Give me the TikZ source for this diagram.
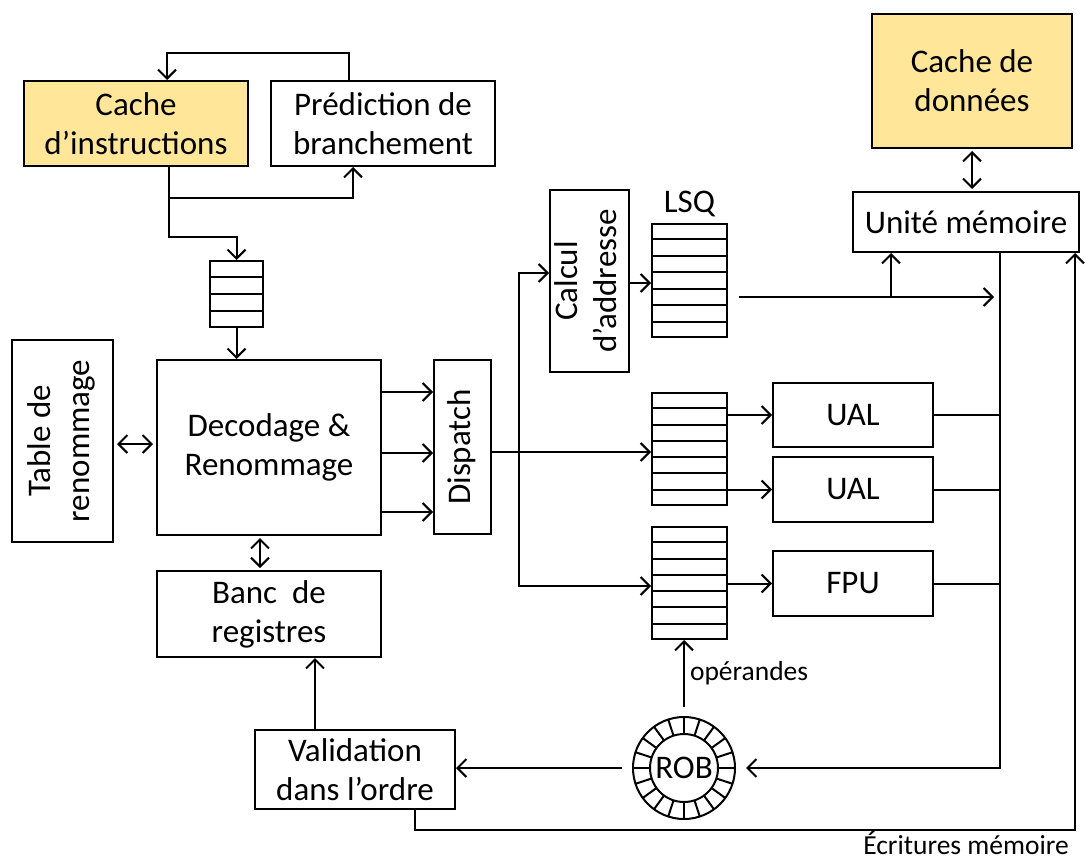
\documentclass[tikz,border=0pt]{standalone}
\usepackage{fontspec}
\usepackage{graphicx}
\setmainfont{Carlito}
\usetikzlibrary{arrows.meta,calc}

\definecolor{cacheyellow}{HTML}{FFE699}
\newcommand{\mainfnt}{\fontsize{33}{39}\selectfont}
\newcommand{\smallfnt}{\fontsize{27.5}{33}\selectfont}
\newcommand{\vtext}[1]{\rotatebox{90}{\begin{tabular}{@{}c@{}}#1\end{tabular}}}

\begin{document}
\begin{tikzpicture}[x=1pt,y=1pt]
    \tikzstyle{block} = [rectangle, draw, line width=2pt, align=center, inner sep=0pt, font=\mainfnt]
    \tikzstyle{cache} = [block, fill=cacheyellow]
    \tikzstyle{queue} = [rectangle, draw, line width=2pt, inner sep=0pt]
    \tikzstyle{title} = [font=\mainfnt, inner sep=0pt]
    \tikzstyle{small} = [font=\smallfnt, inner sep=1pt]
    \tikzstyle{wire} = [line width=2pt]
    \tikzstyle{arrow} = [wire, -{Straight Barb[length=9pt,width=18pt]}]
    \tikzstyle{dblarrow} = [wire, {Straight Barb[length=9pt,width=18pt]}-{Straight Barb[length=9pt,width=18pt]}]

    \useasboundingbox (0,0) rectangle (1086,-861);

    % Fetch
    \node [cache, minimum width=224pt, minimum height=85pt] (icache) at (136,-123.5) {Cache\\d’instructions};
    \node [block, minimum width=224pt, minimum height=85pt] (bpred) at (383,-123.5) {Prédiction de\\branchement};
    \node [queue, minimum width=53pt, minimum height=66pt] (fetchq) at (236.5,-294) {};

    % Decode / rename
    \node [block, minimum width=224pt, minimum height=175pt] (decode) at (269,-447.5) {Decodage \&\\Renommage};
    \node [block, minimum width=101pt, minimum height=202pt] (rentab) at (62.5,-441) {\vtext{Table de\\renommage}};
    \node [block, minimum width=224pt, minimum height=86pt] (regs) at (269,-614) {Banc\ \ de\\registres};
    \node [block, minimum width=200pt, minimum height=79pt] (commit) at (355,-769.5) {Validation\\dans l’ordre};

    % Dispatch and queues
    \node [block, minimum width=57pt, minimum height=174pt] (dispatch) at (462.5,-447) {\vtext{Dispatch}};
    \node [block, minimum width=79pt, minimum height=182pt] (agu) at (589.5,-281) {\vtext{Calcul\\d’addresse}};
    \node [queue, minimum width=75pt, minimum height=113pt] (lsq) at (689.5,-280.5) {};
    \node [title, anchor=base] (lsqname) at ([yshift=11pt]lsq.north) {LSQ};
    \node [queue, minimum width=75pt, minimum height=112pt] (iq1) at (689.5,-449) {};
    \node [queue, minimum width=75pt, minimum height=112pt] (iq2) at (689.5,-583) {};

    % Execution units
    \node [block, minimum width=160pt, minimum height=64pt] (alu1) at (853,-415) {UAL};
    \node [block, minimum width=160pt, minimum height=65pt] (alu2) at (853,-489.5) {UAL};
    \node [block, minimum width=160pt, minimum height=65pt] (fpu) at (853,-583.5) {FPU};

    % Memory
    \node [block, minimum width=226pt, minimum height=60pt] (memu) at (966,-222) {Unité mémoire};
    \node [cache, minimum width=200pt, minimum height=134pt] (dcache) at (972,-81) {Cache de\\données};

    % ROB
    \node [circle, draw, line width=2pt, minimum size=102pt, inner sep=0pt, font=\mainfnt] (rob) at (684,-768) {ROB};
    \draw [wire] (rob.center) circle [radius=34pt];
    \foreach \a in {0,18,...,342}
        \draw [wire] ($(rob.center)+(\a:34pt)$) -- ($(rob.center)+(\a:51pt)$);

    % queue rows
    \foreach \q/\n in {fetchq/4,lsq/7,iq1/7,iq2/7} {
        \pgfmathtruncatemacro{\m}{\n-1}
        \foreach \k in {1,...,\m}
            \draw [wire] ($(\q.north west)!\k/\n!(\q.south west)$) -- ($(\q.north east)!\k/\n!(\q.south east)$);
    }

    % Connections
    \coordinate (split) at ([xshift=27pt,yshift=-5pt]dispatch.east);
    \coordinate (rbus) at ([xshift=34pt]memu.south);
    \coordinate (lsqout) at ([xshift=11pt,yshift=-16.5pt]lsq.east);

    \draw [arrow] ([xshift=-34pt]bpred.north) -- ++(0,27pt) -| ([xshift=31pt]icache.north);
    \draw [arrow] ([xshift=33pt]icache.south) -- ++(0,-31pt) -| ([xshift=-30pt]bpred.south);
    \draw [arrow] ([xshift=33pt]icache.south) -- ++(0,-70pt) -| (fetchq.north);
    \draw [arrow] (fetchq.south) -- (fetchq.south |- decode.north);
    \draw [dblarrow, shorten <=3pt, shorten >=3pt] ([yshift=-3pt]rentab.east) -- ([yshift=-3pt]rentab.east -| decode.west);
    \draw [dblarrow, shorten <=2pt, shorten >=2pt] ([xshift=-9pt]decode.south) -- ([xshift=-9pt]regs.north);
    \draw [arrow] ([xshift=-40pt]commit.north) -- ([xshift=-40pt]commit.north |- regs.south);
    \foreach \dy in {55.5,-5.5,-64.5}
        \draw [arrow] ([yshift=\dy pt]decode.east) -- ([yshift=\dy pt]decode.east -| dispatch.west);

    \draw [arrow] ([yshift=-5pt]dispatch.east) -- ([yshift=-5pt]dispatch.east -| iq1.west);
    \draw [arrow] (split) |- ([yshift=8pt]agu.west);
    \draw [arrow] (split) |- ([yshift=-3pt]iq2.west);
    \draw [arrow] ([yshift=-2pt]agu.east) -- ([yshift=-2pt]agu.east -| lsq.west);

    \draw [arrow] (iq1.east |- alu1.west) -- (alu1.west);
    \draw [arrow] (iq1.east |- alu2.west) -- (alu2.west);
    \draw [arrow] (iq2.east |- fpu.west) -- (fpu.west);
    \foreach \u in {alu1,alu2,fpu}
        \draw [wire] (\u.east) -- (\u.east -| rbus);

    \draw [arrow] (lsqout) -- ([xshift=-6pt]lsqout -| rbus);
    \draw [arrow] ([xshift=-75pt]memu.south |- lsqout) -- ([xshift=-75pt]memu.south);
    \draw [dblarrow, shorten <=2pt, shorten >=2pt] (dcache.south) -- (dcache.south |- memu.north);

    \draw [arrow] (rbus) |- ([xshift=10pt]rob.east);
    \draw [arrow] ([xshift=-10pt]rob.west) -- (rob.west -| commit.east);
    \draw [arrow] ([yshift=9pt]rob.north) -- (rob.north |- iq2.south) node [small, midway, right=4pt] {opérandes};

    \draw [arrow] ([xshift=60pt]commit.south) -- ++(0,-20pt) -| ([xshift=109pt]memu.south);
    \node [small, anchor=base] (wlabel) at (966,-854) {Écritures mémoire};

\end{tikzpicture}
\end{document}
